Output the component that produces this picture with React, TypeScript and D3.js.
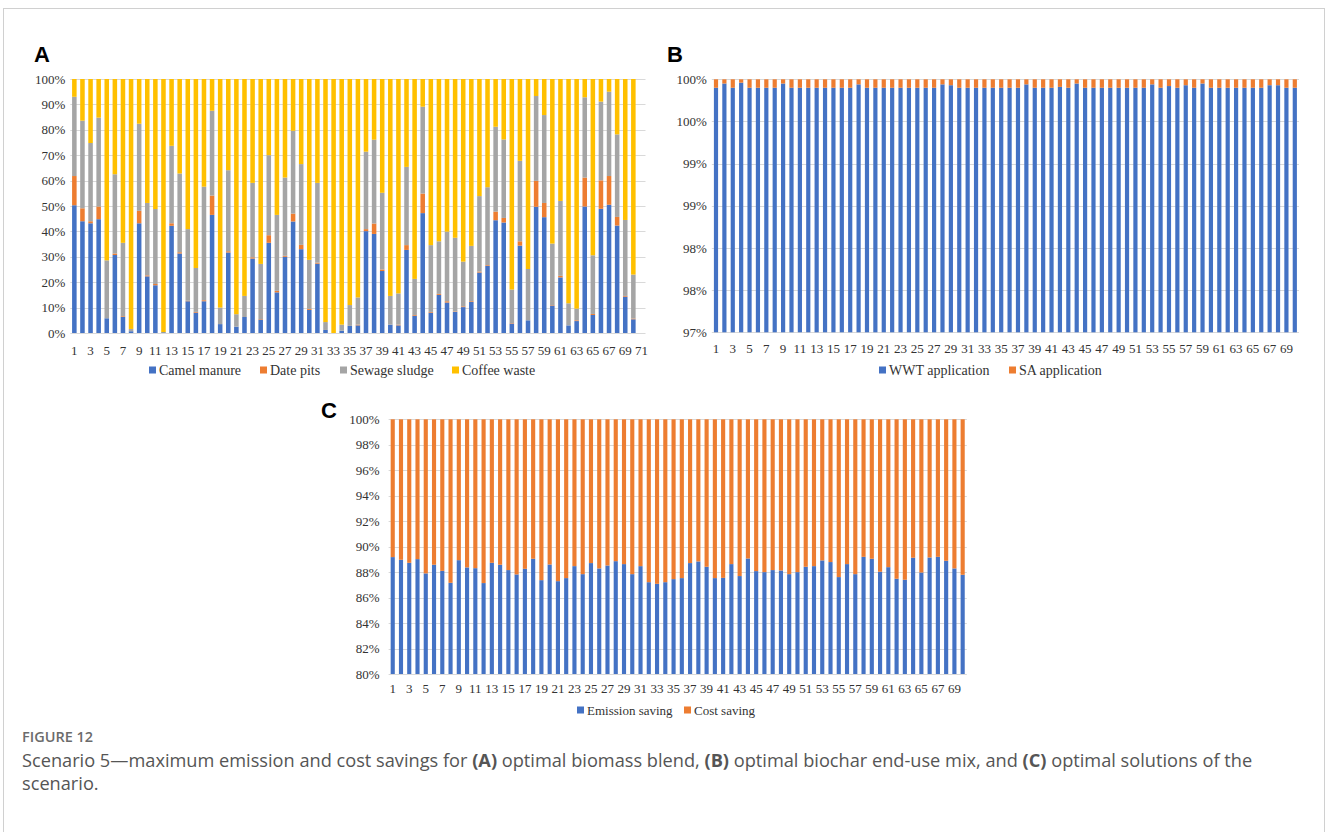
import React from "react";
import * as d3 from "d3";

// ---------- Panel A data (71 categories, last one empty) ----------
const catsA = d3.range(1, 72).map(String);
const camelManure = [50.3,44,43.2,44.8,5.8,30.7,6.3,0.7,43.2,22.3,18.8,0.3,42.2,31.3,12.5,8,12.5,46.5,3.5,31.7,2.5,6.3,29.3,5.3,35.5,16,30,43.9,33,9.1,27.3,1.2,0,0.9,2.8,3,40.1,39,24.4,3.3,3,32.7,6.8,47.2,8,15,12,8.3,10.2,12.2,23.8,26.4,44.4,43.5,3.7,34.4,5,49.7,45.6,10.8,21.9,3,4.7,49.8,7.1,48.9,50.5,42.3,14.3,5.4,0];
const datePits = [11.5,5.1,0.8,5,0,0.6,0.3,0,4.9,0.4,0.5,0,1,0.5,0.2,0.3,0.4,7.6,0,0.5,0,0,0.5,0.2,3,0.6,0.4,3.1,1.7,0.4,0.4,0,0,0,0,0.3,0.8,4.1,0.6,0,0.3,1.9,0.3,7.7,0.3,0.4,0.5,0.2,0.3,0.3,0.4,0.3,3.4,1.8,0.2,1.7,0,10.2,5.6,0.2,0.6,0,0.3,11.4,0.4,11.2,11.3,3.4,0.3,0.3,0];
const sewageSludge = [31.2,34.5,30.8,35,22.8,31.2,28.9,0.9,34.3,28.5,29.5,0,30.5,31,28.2,17.3,44.7,33.4,6.5,31.9,4.9,8.3,29.3,21.7,31.5,29.9,30.8,32.6,31.8,19.3,31.4,3.1,0,2.4,8.2,10.7,30.5,33,30.2,11.3,12.3,30.8,14.2,34.2,26.3,20.7,27.4,29,17.6,21.8,29.7,30.7,33.4,30.9,13.2,31.7,20.2,33.4,34.6,24.2,29.5,8.7,4.6,31.6,23.1,31,33.2,32.5,29.9,17.3,0];
const coffeeWaste = [7,16.4,25.2,15.2,71.4,37.5,64.5,98.4,17.6,48.8,51.2,99.7,26.3,37.2,59.1,74.4,42.4,12.5,90,35.9,92.6,85.4,40.9,72.8,30,53.5,38.8,20.4,33.5,71.2,40.9,95.7,100,96.7,89,86,28.6,23.9,44.8,85.4,84.4,34.6,78.7,10.9,65.4,63.9,60.1,62.5,71.9,65.7,46.1,42.6,18.8,23.8,82.9,32.2,74.8,6.7,14.2,64.8,48,88.3,90.4,7.2,69.4,8.9,5,21.8,55.5,77,0];
const keysA = ["Camel manure", "Date pits", "Sewage sludge", "Coffee waste"];
const colorsA = ["#4472C4", "#ED7D31", "#A5A5A5", "#FFC000"];
const ticksA = [0,10,20,30,40,50,60,70,80,90,100];
const tickLabelsA = ["0%","10%","20%","30%","40%","50%","60%","70%","80%","90%","100%"];

// ---------- Panel B data (70 categories) ----------
const catsB = d3.range(1, 71).map(String);
const wwtApplication = [99.90,99.95,99.90,99.96,99.90,99.90,99.90,99.90,99.95,99.90,99.90,99.90,99.90,99.90,99.90,99.90,99.90,99.94,99.90,99.90,99.90,99.90,99.90,99.90,99.90,99.90,99.90,99.94,99.93,99.90,99.90,99.90,99.90,99.90,99.90,99.90,99.90,99.94,99.90,99.90,99.90,99.91,99.90,99.95,99.90,99.90,99.90,99.90,99.90,99.90,99.90,99.90,99.94,99.90,99.92,99.90,99.93,99.90,99.95,99.90,99.90,99.90,99.90,99.90,99.90,99.90,99.93,99.93,99.90,99.90];
const saApplication = [0.10,0.05,0.10,0.04,0.10,0.10,0.10,0.10,0.05,0.10,0.10,0.10,0.10,0.10,0.10,0.10,0.10,0.06,0.10,0.10,0.10,0.10,0.10,0.10,0.10,0.10,0.10,0.06,0.07,0.10,0.10,0.10,0.10,0.10,0.10,0.10,0.10,0.06,0.10,0.10,0.10,0.09,0.10,0.05,0.10,0.10,0.10,0.10,0.10,0.10,0.10,0.10,0.06,0.10,0.08,0.10,0.07,0.10,0.05,0.10,0.10,0.10,0.10,0.10,0.10,0.10,0.07,0.07,0.10,0.10];
const keysB = ["WWT application", "SA application"];
const colorsB = ["#4472C4", "#ED7D31"];
const ticksB = [97, 97.5, 98, 98.5, 99, 99.5, 100];
const tickLabelsB = ["97%","98%","98%","99%","99%","100%","100%"];

// ---------- Panel C data (70 categories) ----------
const catsC = d3.range(1, 71).map(String);
const emissionSaving = [89.18,88.97,88.73,89.02,87.9,88.58,88.1,87.16,88.94,88.37,88.31,87.14,88.73,88.58,88.16,87.82,88.26,89.05,87.37,88.6,87.29,87.53,88.47,87.84,88.71,88.29,88.52,88.86,88.63,87.84,88.47,87.21,87.08,87.21,87.45,87.53,88.71,88.84,88.42,87.53,87.55,88.63,87.69,89.07,88.08,88.0,88.16,88.13,87.84,88.0,88.42,88.47,88.92,88.79,87.61,88.63,87.84,89.2,89.05,88.03,88.39,87.48,87.4,89.13,87.97,89.15,89.2,88.89,88.29,87.79];
const costSaving = [10.82,11.03,11.27,10.98,12.1,11.42,11.9,12.84,11.06,11.63,11.69,12.86,11.27,11.42,11.84,12.18,11.74,10.95,12.63,11.4,12.71,12.47,11.53,12.16,11.29,11.71,11.48,11.14,11.37,12.16,11.53,12.79,12.92,12.79,12.55,12.47,11.29,11.16,11.58,12.47,12.45,11.37,12.31,10.93,11.92,12.0,11.84,11.87,12.16,12.0,11.58,11.53,11.08,11.21,12.39,11.37,12.16,10.8,10.95,11.97,11.61,12.52,12.6,10.87,12.03,10.85,10.8,11.11,11.71,12.21];
const keysC = ["Emission saving", "Cost saving"];
const colorsC = ["#4472C4", "#ED7D31"];
const ticksC = [80,82,84,86,88,90,92,94,96,98,100];
const tickLabelsC = ["80%","82%","84%","86%","88%","90%","92%","94%","96%","98%","100%"];

const SERIF = "'Liberation Serif', 'Times New Roman', serif";
const SANS = "'Liberation Sans', Arial, sans-serif";
const CAPTION_FONT = "'Open Sans', 'Noto Sans', sans-serif";

type PanelProps = {
  cats: string[];
  series: number[][];
  keys: string[];
  colors: string[];
  ticks: number[];
  tickLabels: string[];
  domain: [number, number];
  left: number; right: number; top: number; bottom: number;
  padding: number;
  legendX: number[];
  legendY: number;
  legendSize: number;
  xLabelY: number;
  letter: string; letterX: number; letterY: number;
  labelGap: number;
};

function Panel(p: PanelProps) {
  const x = d3.scaleBand<string>().domain(p.cats).range([p.left, p.right]).paddingInner(p.padding).paddingOuter(p.padding / 2);
  const y = d3.scaleLinear().domain(p.domain).range([p.bottom, p.top]).clamp(true);
  const rows = p.cats.map((c, i) => {
    const r: any = { cat: c };
    p.keys.forEach((k, j) => (r[k] = p.series[j][i]));
    return r;
  });
  const stacked = d3.stack<any>().keys(p.keys)(rows);
  const truncated = p.domain[0] > 0;
  return (
    <g>
      <text x={p.letterX} y={p.letterY} fontFamily={SANS} fontWeight="bold" fontSize={22} fill="#000">{p.letter}</text>
      {p.ticks.map((t, i) => (
        <g key={"t" + i}>
          <line x1={p.left} x2={p.right} y1={Math.round(y(t)) + 0.5} y2={Math.round(y(t)) + 0.5} stroke="#D9D9D9" strokeWidth={1} />
          <text x={p.left - p.labelGap} y={y(t)} dy="0.35em" textAnchor="end" fontFamily={SERIF} fontSize={13} fill="#333">{p.tickLabels[i]}</text>
        </g>
      ))}
      {stacked.map((s, j) => (
        <g key={"s" + j} fill={p.colors[j]}>
          {s.map((d, i) => {
            // first series starts at the axis baseline when the axis is truncated
            const v0 = j === 0 && truncated ? p.domain[0] : (d[0] as number);
            const v1 = d[1] as number;
            const ya = y(v0), yb = y(v1);
            const h = Math.abs(ya - yb);
            if (h <= 0) return null;
            return <rect key={i} x={x(d.data.cat)} width={x.bandwidth()} y={Math.min(ya, yb)} height={h} />;
          })}
        </g>
      ))}
      {p.cats.map((c, i) => (i % 2 === 0 ? (
        <text key={"x" + i} x={(x(c) as number) + x.bandwidth() / 2} y={p.xLabelY} dy="0.35em" textAnchor="middle" fontFamily={SERIF} fontSize={13} fill="#333">{c}</text>
      ) : null))}
      {p.keys.map((k, j) => (
        <g key={"l" + j}>
          <rect x={p.legendX[j]} y={p.legendY - 3.5} width={7} height={7} fill={p.colors[j]} />
          <text x={p.legendX[j] + 10} y={p.legendY} dy="0.35em" fontFamily={SERIF} fontSize={p.legendSize} fill="#333">{k}</text>
        </g>
      ))}
    </g>
  );
}

export default function App() {
  return (
    <svg width={1328} height={832} style={{ position: "absolute", left: 0, top: 0, background: "#fff" }}>
      <rect x={0} y={0} width={1328} height={832} fill="#fff" />
      <rect x={3.5} y={8.5} width={1321} height={900} fill="none" stroke="#D0D0D0" strokeWidth={1} />
      <Panel cats={catsA} series={[camelManure, datePits, sewageSludge, coffeeWaste]} keys={keysA} colors={colorsA}
        ticks={ticksA} tickLabels={tickLabelsA} domain={[0, 100]}
        left={70.3} right={645.5} top={79} bottom={333} padding={0.44}
        legendX={[149, 260, 340, 452]} legendY={370} legendSize={14} xLabelY={350}
        letter="A" letterX={34} letterY={62} labelGap={5} />
      <Panel cats={catsB} series={[wwtApplication, saApplication]} keys={keysB} colors={colorsB}
        ticks={ticksB} tickLabels={tickLabelsB} domain={[97, 100]}
        left={711.8} right={1299} top={79.3} bottom={332.3} padding={0.5}
        legendX={[879, 1009]} legendY={370} legendSize={14} xLabelY={348}
        letter="B" letterX={667} letterY={62} labelGap={5} />
      <Panel cats={catsC} series={[emissionSaving, costSaving]} keys={keysC} colors={colorsC}
        ticks={ticksC} tickLabels={tickLabelsC} domain={[80, 100]}
        left={388.6} right={966.8} top={419.3} bottom={674} padding={0.5}
        legendX={[577, 684]} legendY={710} legendSize={13} xLabelY={688}
        letter="C" letterX={321} letterY={418} labelGap={9} />
      <text x={22} y={742} fontFamily={CAPTION_FONT} fontSize={14.5} fontWeight={600} fill="#6b6b6b">FIGURE 12</text>
      <text x={22} y={767} fontFamily={CAPTION_FONT} fontSize={18.2} fill="#555">
        <tspan>Scenario 5—maximum emission and cost savings for </tspan>
        <tspan fontWeight="bold">(A)</tspan>
        <tspan> optimal biomass blend, </tspan>
        <tspan fontWeight="bold">(B)</tspan>
        <tspan> optimal biochar end-use mix, and </tspan>
        <tspan fontWeight="bold">(C)</tspan>
        <tspan> optimal solutions of the</tspan>
      </text>
      <text x={22} y={790} fontFamily={CAPTION_FONT} fontSize={18.2} fill="#555">scenario.</text>
    </svg>
  );
}
